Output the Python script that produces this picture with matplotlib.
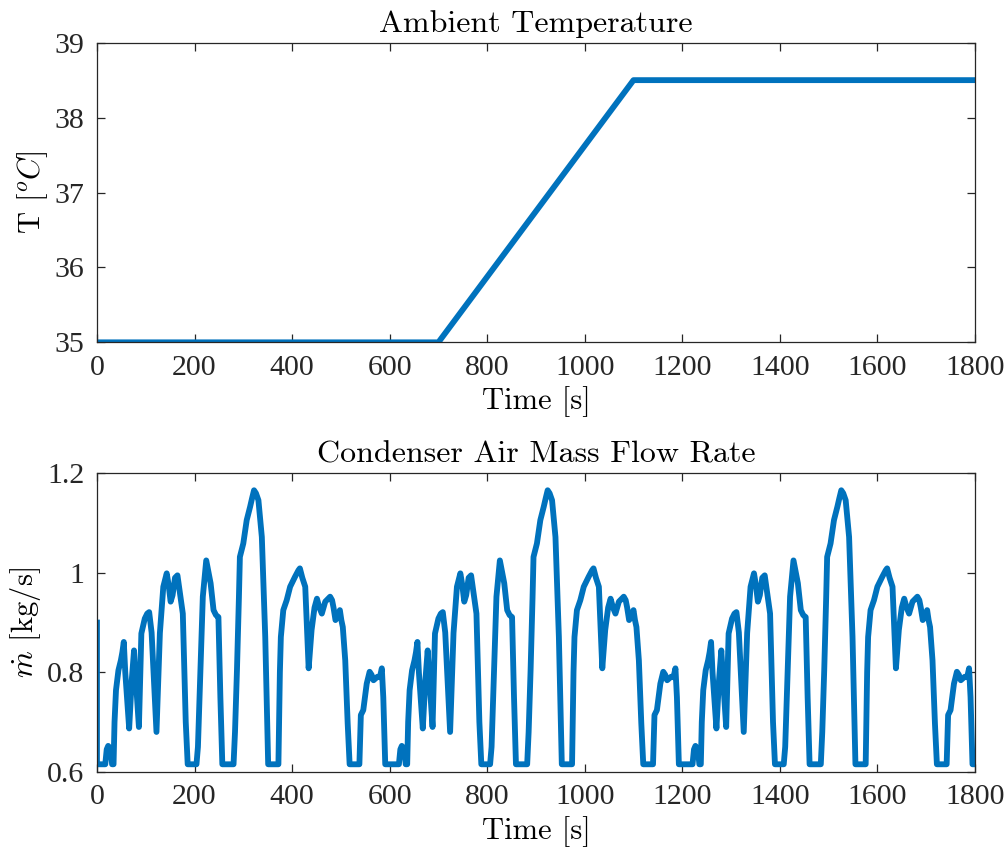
import numpy as np
import matplotlib
matplotlib.use("Agg")
import matplotlib.pyplot as plt

# Ambient temperature profile
temp_t = [0, 700, 1100, 1800]
temp_v = [35.0, 35.0, 38.5, 38.5]

# One drive cycle of condenser air mass flow (time relative to cycle start, kg/s)
cycle_t = [0, 17, 20, 23, 28, 31, 34, 36, 39, 44, 49, 52, 55, 58, 66, 71, 76, 80, 86,
           91, 98, 103, 107, 112, 122, 129, 136, 143, 147, 151, 155, 160, 165, 170,
           176, 182, 186, 204, 207, 211, 217, 224, 229, 233, 239, 244, 249, 253, 257,
           280, 283, 287, 291, 293, 300, 307, 314, 318, 322, 326, 331, 338, 345, 351,
           372, 375, 377, 382, 389, 396, 406, 413, 416, 421, 427, 430, 434, 440, 446,
           451, 456, 461, 468, 474, 478, 482, 485, 489, 492, 498, 501, 504, 509, 514,
           518, 538, 541, 546, 553, 559, 563, 567, 575, 580, 584, 587, 591]
cycle_v = [0.615, 0.615, 0.645, 0.652, 0.645, 0.615, 0.615, 0.70, 0.764, 0.804, 0.824,
           0.84, 0.861, 0.80, 0.687, 0.78, 0.844, 0.78, 0.69, 0.878, 0.908, 0.918, 0.921,
           0.88, 0.68, 0.879, 0.972, 0.999, 0.975, 0.942, 0.955, 0.99, 0.995, 0.96, 0.918,
           0.70, 0.615, 0.615, 0.65, 0.771, 0.952, 1.025, 1.0, 0.979, 0.925, 0.915, 0.911,
           0.75, 0.615, 0.615, 0.68, 0.804, 0.95, 1.032, 1.059, 1.106, 1.133, 1.15, 1.166,
           1.16, 1.146, 1.072, 0.871, 0.615, 0.615, 0.80, 0.871, 0.925, 0.945, 0.972,
           0.992, 1.005, 1.009, 0.99, 0.972, 0.90, 0.808, 0.885, 0.93, 0.948, 0.93, 0.918,
           0.942, 0.948, 0.952, 0.945, 0.93, 0.905, 0.91, 0.925, 0.905, 0.891, 0.824,
           0.697, 0.615, 0.615, 0.714, 0.724, 0.777, 0.801, 0.795, 0.784, 0.791, 0.79,
           0.808, 0.75, 0.615]
cycle_starts = [0, 602, 1204]
initial_flow = 0.9

t_flow = [0]
m_flow = [initial_flow]
for start in cycle_starts:
    t_flow += [start + t for t in cycle_t]
    m_flow += cycle_v
t_flow.append(1806)
m_flow.append(0.615)

blue = "#0072BD"
axcol = "#262626"
plt.rcParams["mathtext.fontset"] = "cm"
tick_font = "Liberation Serif"
tex_font = "cmr10"

fig = plt.figure(figsize=(10.08, 8.52), dpi=100)
ax1 = fig.add_axes([0.0962, 0.5982, 0.871, 0.3517])
ax2 = fig.add_axes([0.0962, 0.0942, 0.871, 0.3502])


def style(ax):
    for s in ax.spines.values():
        s.set_color(axcol)
        s.set_linewidth(0.9)
    ax.tick_params(direction="in", length=6, width=0.9, color=axcol, top=True,
                   right=True, labelsize=21.5, labelcolor=axcol, pad=9)
    for lab in ax.get_xticklabels() + ax.get_yticklabels():
        lab.set_fontfamily(tick_font)


ax1.plot(temp_t, temp_v, color=blue, lw=4.2)
ax1.set_xlim(0, 1800)
ax1.set_ylim(35, 39)
ax1.set_xticks(np.arange(0, 1801, 200))
ax1.set_yticks([35, 36, 37, 38, 39])
style(ax1)
ax1.set_title("Ambient Temperature", fontfamily=tex_font, fontsize=23, pad=8)
ax1.set_xlabel("Time [s]", fontfamily=tex_font, fontsize=22, labelpad=4)
ax1.set_ylabel("T [$^oC$]", fontfamily=tex_font, fontsize=22, labelpad=3)

ax2.plot(t_flow, m_flow, color=blue, lw=4.2)
ax2.set_xlim(0, 1800)
ax2.set_ylim(0.6, 1.2)
ax2.set_xticks(np.arange(0, 1801, 200))
ax2.set_yticks([0.6, 0.8, 1.0, 1.2])
ax2.set_yticklabels(["0.6", "0.8", "1", "1.2"])
style(ax2)
ax2.set_title("Condenser Air Mass Flow Rate", fontfamily=tex_font, fontsize=23, pad=8)
ax2.set_xlabel("Time [s]", fontfamily=tex_font, fontsize=22, labelpad=4)
ax2.set_ylabel(r"$\dot{m}$ [kg/s]", fontfamily=tex_font, fontsize=22, labelpad=3)

fig.savefig("out.png", dpi=100, facecolor="white")
